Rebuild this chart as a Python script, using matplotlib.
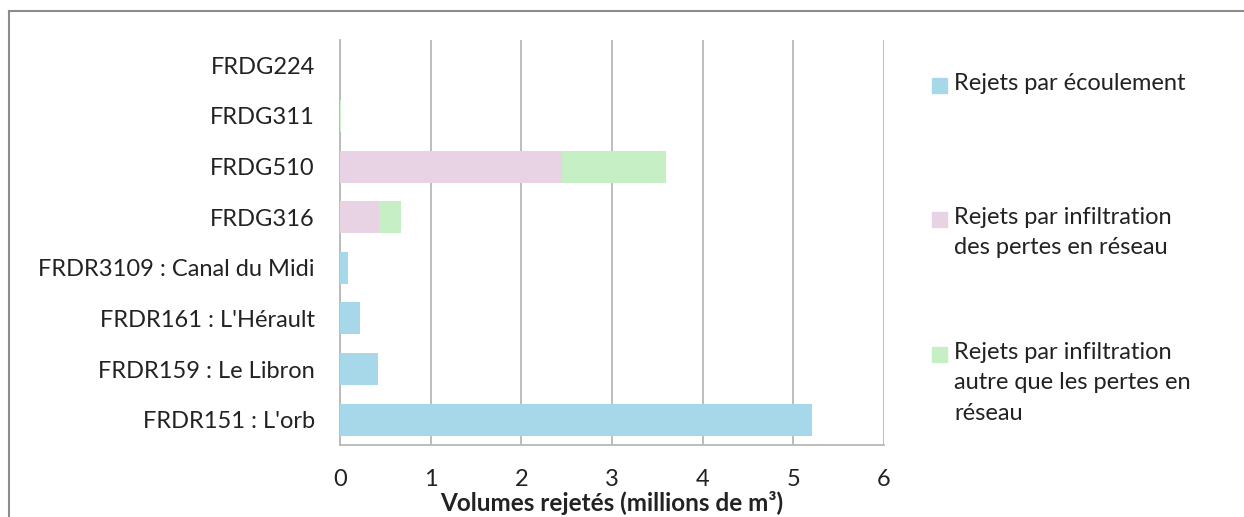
import matplotlib

matplotlib.use("Agg")
import matplotlib.pyplot as plt
from matplotlib.lines import Line2D
from matplotlib.patches import Rectangle
import numpy as np

plt.rcParams["font.family"] = ["Lato", "DejaVu Sans"]

# categories listed bottom to top
CATEGORIES = [
    "FRDR151 : L'orb",
    "FRDR159 : Le Libron",
    "FRDR161 : L'Hérault",
    "FRDR3109 : Canal du Midi",
    "FRDG316",
    "FRDG510",
    "FRDG311",
    "FRDG224",
]
ECOULEMENT = [5.21, 0.42, 0.22, 0.09, 0.0, 0.0, 0.0, 0.0]
PERTES_RESEAU = [0.0, 0.0, 0.0, 0.0, 0.43, 2.45, 0.0, 0.0]
AUTRE_INFILTRATION = [0.0, 0.0, 0.0, 0.0, 0.24, 1.15, 0.01, 0.0]
SERIES_LABELS = [
    "Rejets par écoulement",
    "Rejets par infiltration\ndes pertes en réseau",
    "Rejets par infiltration\nautre que les pertes en\nréseau",
]
COLORS = ["#a6d8ea", "#e8d3e5", "#c6efc6"]
XTICKS = [0, 1, 2, 3, 4, 5, 6]

fig = plt.figure(figsize=(12.44, 5.17), dpi=100)
ax = fig.add_axes([0.2733, 0.1393, 0.4373, 0.7833])

y = np.arange(len(CATEGORIES))
left = np.zeros(len(CATEGORIES))
for vals, col in zip([ECOULEMENT, PERTES_RESEAU, AUTRE_INFILTRATION], COLORS):
    ax.barh(y, vals, left=left, height=0.63, color=col, zorder=3)
    left = left + np.asarray(vals)

ax.set_xlim(0, 6)
ax.set_ylim(-0.5, len(CATEGORIES) - 0.5)
ax.set_xticks(XTICKS)
ax.set_xticklabels([str(t) for t in XTICKS], fontsize=17, color="#222222")
ax.set_yticks(y)
ax.set_yticklabels(CATEGORIES, fontsize=17, color="#222222")
ax.tick_params(axis="x", length=0, pad=17)
ax.tick_params(axis="y", length=0, pad=18)
ax.grid(axis="x", color="#b8b8b8", linewidth=1.3, zorder=0)
for side in ["top", "right"]:
    ax.spines[side].set_visible(False)
for side in ["left", "bottom"]:
    ax.spines[side].set_color("#b8b8b8")
    ax.spines[side].set_linewidth(1.3)
ax.set_xlabel("Volumes rejetés (millions de m³)", fontsize=17.5, fontweight="bold",
              color="#222222", labelpad=1)

# legend drawn by hand to match the spread-out layout
legend_tops = [73, 207, 342]
for label, col, top in zip(SERIES_LABELS, COLORS, legend_tops):
    yt = 1 - top / 517
    fig.text(954 / 1244, yt, label, fontsize=17, color="#222222", va="top",
             ha="left", linespacing=1.55)
    fig.patches.append(Rectangle((932 / 1244, 1 - (top + 20) / 517), 15 / 1244, 15 / 517,
                                 transform=fig.transFigure, color=col, figure=fig))

# outer frame
fig.lines.append(Line2D([9 / 1244, 1], [1 - 11 / 517, 1 - 11 / 517],
                        transform=fig.transFigure, color="#8c8c8c", linewidth=1.5))
fig.lines.append(Line2D([9 / 1244, 9 / 1244], [0, 1 - 11 / 517],
                        transform=fig.transFigure, color="#8c8c8c", linewidth=1.5))

fig.savefig("out.png", dpi=100)
